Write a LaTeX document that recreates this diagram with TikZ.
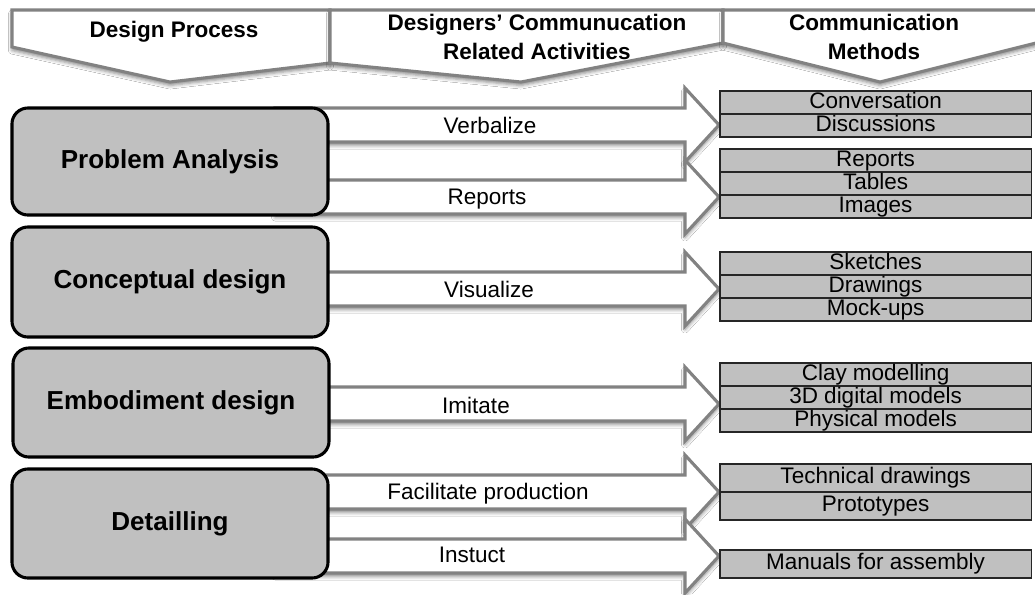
\documentclass[tikz,border=0pt]{standalone}
\usepackage{fontspec}
\setmainfont{Liberation Sans}
\usetikzlibrary{positioning,shadows.blur}

\definecolor{boxgray}{RGB}{192,192,192}
\definecolor{rimgray}{RGB}{130,130,130}

\tikzset{
  softshadow/.style={blur shadow={shadow xshift=0pt, shadow yshift=-2.5pt, shadow blur radius=2.5pt, shadow opacity=45}},
  head/.style={draw=rimgray, line width=2.2pt, fill=white, softshadow},
  title/.style={font=\bfseries\fontsize{16}{20}\selectfont, align=center},
  flow/.style={draw=rimgray, line width=2.2pt, fill=white, softshadow},
  act/.style={font=\fontsize{16}{19}\selectfont},
  stage/.style={draw=black, line width=2.2pt, fill=boxgray, rounded corners=0.4cm,
    minimum width=7.9cm, font=\bfseries\fontsize{18.5}{22}\selectfont},
  meth/.style={draw=black!85, line width=0.8pt, fill=boxgray, minimum width=7.775cm,
    minimum height=0.575cm, inner sep=0pt, outer sep=0pt, text height=11.5pt, text depth=3pt,
    font=\fontsize{16}{19}\selectfont},
  tallmeth/.style={meth, minimum height=0.7cm},
  flowarrow/.pic={
    \path[flow] (-444,-17) -- (-34,-17) -- (-34,-37) -- (0,0) -- (-34,37) -- (-34,17) -- (-444,17) -- cycle;
  }
}

\begin{document}
\begin{tikzpicture}[x=0.025cm, y=-0.025cm]
\fill[white] (0,0) rectangle (1035,594);
\useasboundingbox (0,0) rectangle (1035,594);

% header chevrons
\draw[head] (12,10) -- (330,10) -- (330,63) -- (170,82) -- (12,47) -- cycle;
\draw[head] (330,10) -- (723,10) -- (723,43) -- (521,82) -- (330,63) -- cycle;
\draw[head] (723,10) -- (1040,10) -- (1040,42) -- (880,82) -- (723,43) -- cycle;
\node[title] (hproc) at (174,32) {Design Process};
\node[title] (hact) at (537,37) {Designers’ Communucation\\Related Activities};
\node[title] (hmeth) at (874,37) {Communication\\Methods};

% activity arrows
\coordinate (t1) at (719,125);
\coordinate (t2) at (719,197);
\coordinate (t3) at (719,289);
\coordinate (t4) at (719,404);
\coordinate (t5) at (719,492);
\coordinate (t6) at (719,556);
\pic at (t1) {flowarrow};
\pic at (t2) {flowarrow};
\pic at (t3) {flowarrow};
\pic at (t4) {flowarrow};
\pic at (t5) {flowarrow};
\pic at (t6) {flowarrow};
\node[act] (verb) at (490,125) {Verbalize};
\node[act] (repo) at (487,199) {Reports};
\node[act] (visu) at (489,289) {Visualize};
\node[act] (imit) at (476,405) {Imitate};
\node[act] (faci) at (488,494) {Facilitate production};
\node[act] (inst) at (472,555) {Instuct};

% design stages
\node[stage, minimum height=2.675cm] (pa) at (170,161.5) {Problem Analysis};
\node[stage, minimum height=2.75cm] (cd) at (170,282) {Conceptual design};
\node[stage, minimum height=2.725cm] (ed) at (171,402.5) {Embodiment design};
\node[stage, minimum height=2.725cm] (dt) at (170,523.5) {Detailling};

% communication methods
\node[meth, anchor=north west] (conv) at (720,91) {Conversation};
\node[meth, below=0pt of conv] (disc) {Discussions};
\node[meth, anchor=north west] (rep) at (720,149) {Reports};
\node[meth, below=0pt of rep] (tab) {Tables};
\node[meth, below=0pt of tab] (img) {Images};
\node[meth, anchor=north west] (sket) at (720,252) {Sketches};
\node[meth, below=0pt of sket] (draw) {Drawings};
\node[meth, below=0pt of draw] (mock) {Mock-ups};
\node[meth, anchor=north west] (clay) at (720,363) {Clay modelling};
\node[meth, below=0pt of clay] (digi) {3D digital models};
\node[meth, below=0pt of digi] (phys) {Physical models};
\node[tallmeth, anchor=north west] (tech) at (720,464) {Technical drawings};
\node[tallmeth, below=0pt of tech] (prot) {Prototypes};
\node[tallmeth, anchor=north west] (manu) at (720,550) {Manuals for assembly};
\end{tikzpicture}
\end{document}
